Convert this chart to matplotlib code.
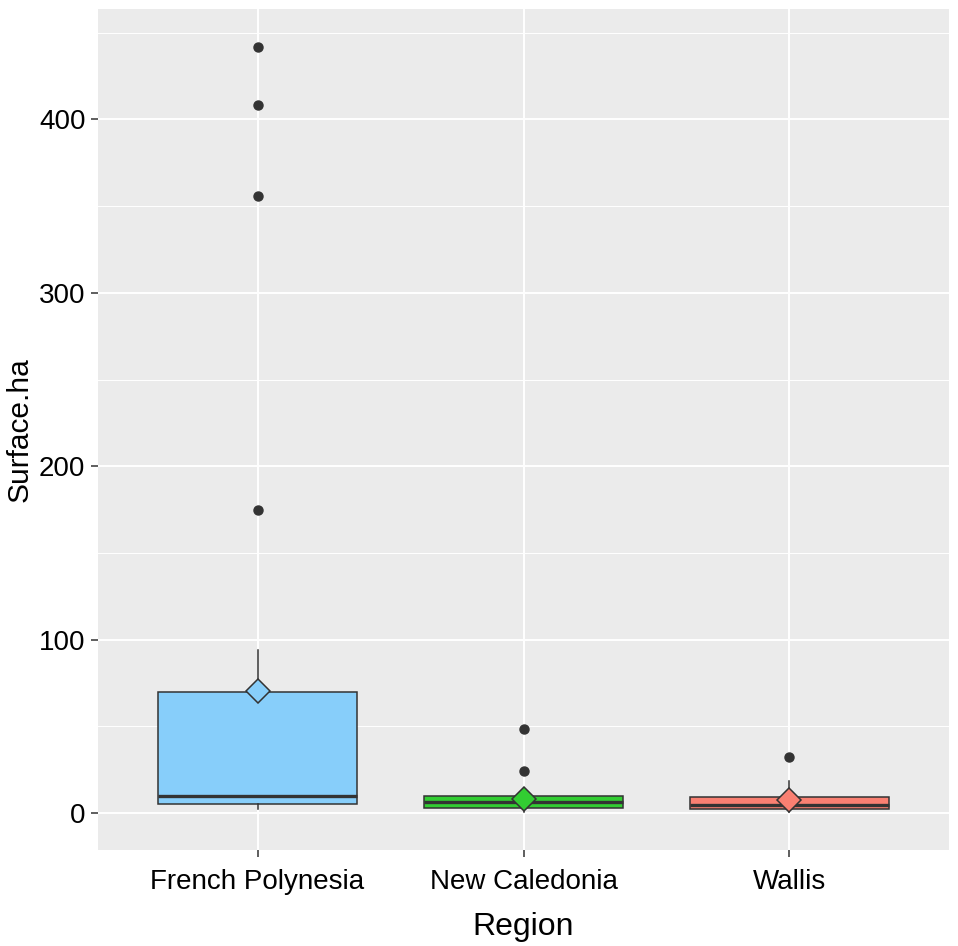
import numpy as np
import matplotlib
matplotlib.use("Agg")
import matplotlib.pyplot as plt

plt.rcParams['font.family'] = ['Liberation Sans', 'DejaVu Sans']

# summary values
regions = ["French Polynesia", "New Caledonia", "Wallis"]
q1 = [5.0, 2.7, 2.1]
med = [9.8, 6.5, 4.4]
q3 = [70.0, 10.0, 9.2]
whis_lo = [2.1, 0.5, 0.5]
whis_hi = [94.0, 14.0, 18.5]
means = [70.5, 8.1, 7.5]
outliers = [[442, 408.5, 356, 175], [48.2, 24.3], [32.2]]
fills = ["#87CEFA", "#32CD32", "#FA8072"]

fig = plt.figure(figsize=(9.58, 9.46), dpi=100)
ax = fig.add_axes([98 / 958, (946 - 849.7) / 946, (949 - 98) / 958, (849.7 - 9) / 946])
ax.set_facecolor("#EBEBEB")

stats = []
for i in range(len(regions)):
    stats.append(dict(q1=q1[i], med=med[i], q3=q3[i], whislo=whis_lo[i],
                      whishi=whis_hi[i], fliers=outliers[i], label=regions[i]))

pos = np.arange(1, len(regions) + 1)
bp = ax.bxp(stats, positions=pos, widths=0.75, patch_artist=True, showcaps=False,
            boxprops=dict(edgecolor="#333333", linewidth=1.1),
            whiskerprops=dict(color="#333333", linewidth=1.1),
            medianprops=dict(color="#333333", linewidth=2.4),
            flierprops=dict(marker="o", markerfacecolor="#333333", markeredgecolor="#333333",
                            markersize=6.5, linestyle="none"),
            zorder=3)
for patch, c in zip(bp["boxes"], fills):
    patch.set_facecolor(c)

for x, m, c in zip(pos, means, fills):
    ax.plot(x, m, marker="D", markersize=12.5, markerfacecolor=c, markeredgecolor="#333333",
            markeredgewidth=1.1, zorder=5, linestyle="none")

ax.set_xlim(0.4, 3.6)
ax.set_ylim(-21.2, 463.7)
ax.set_yticks([0, 100, 200, 300, 400])
ax.set_yticks([50, 150, 250, 350, 450], minor=True)
ax.set_xticks(pos)
ax.set_xticklabels(regions)

ax.grid(which="major", color="white", linewidth=1.4, zorder=0)
ax.grid(which="minor", axis="y", color="white", linewidth=0.7, zorder=0)
ax.set_axisbelow(True)
for s in ax.spines.values():
    s.set_visible(False)

ax.tick_params(axis="both", which="major", length=5, width=1.1, color="#333333",
               labelsize=20, labelcolor="black", pad=4)
ax.tick_params(axis="x", which="major", pad=9)
ax.tick_params(axis="both", which="minor", length=0)

ax.set_xlabel("Region", fontsize=23, labelpad=12)
ax.set_ylabel("Surface.ha", fontsize=21.5, labelpad=4)

fig.savefig("out.png", dpi=100)
